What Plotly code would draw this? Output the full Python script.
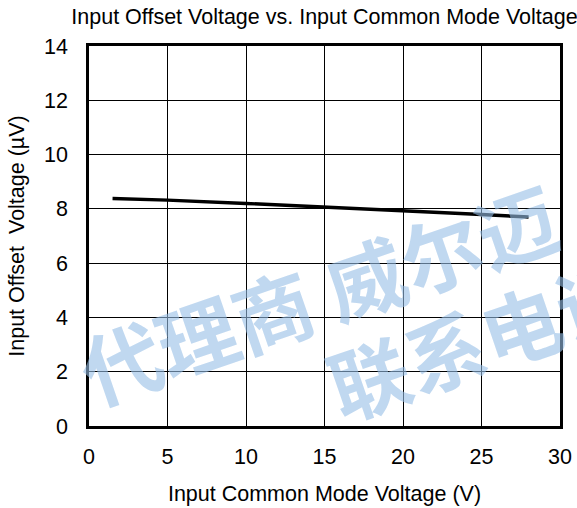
import plotly.graph_objects as go

# Data
vcm = [1.5, 5, 10, 15, 20, 25, 28]
vos = [8.38, 8.32, 8.20, 8.07, 7.93, 7.79, 7.70]

x_ticks = [0, 5, 10, 15, 20, 25, 30]
y_ticks = [0, 2, 4, 6, 8, 10, 12, 14]

FONT = "Liberation Sans, Arial, sans-serif"

fig = go.Figure()
fig.add_trace(go.Scatter(x=vcm, y=vos, mode="lines",
                         line=dict(color="black", width=3.4), showlegend=False))

fig.update_layout(
    width=577, height=508,
    margin=dict(l=89, r=17, t=46, b=82, autoexpand=False),
    paper_bgcolor="white", plot_bgcolor="white",
    font=dict(family=FONT, size=21.5, color="black"),
    title=dict(text="Input Offset Voltage vs. Input Common Mode Voltage",
               x=0.5, xanchor="center", xref="paper", y=0.968, yanchor="middle",
               font=dict(size=21.5, family=FONT, color="black")),
)
fig.update_xaxes(range=[0, 30], tickvals=x_ticks, showgrid=True, gridcolor="black",
                 gridwidth=1, showline=True, linecolor="black", linewidth=2.5, mirror=True,
                 ticks="", ticklabelstandoff=9, zeroline=False, automargin=False,
                 tickfont=dict(size=21.5),
                 title=dict(text="Input Common Mode Voltage (V)", standoff=19,
                            font=dict(size=21.5)))
fig.update_yaxes(range=[0, 14], tickvals=y_ticks, showgrid=True, gridcolor="black",
                 gridwidth=1, showline=True, linecolor="black", linewidth=2.5, mirror=True,
                 ticks="", ticklabelstandoff=14, zeroline=False, automargin=False,
                 tickfont=dict(size=21.5),
                 title=dict(text="Input Offset  Voltage (µV)", standoff=14,
                            font=dict(size=21.5)))

# Watermark text (pixel centres converted to paper coords)
wm = "rgba(150,190,230,0.6)"
def px(xp, yp):
    return (xp - 89) / 471.0, (426 - yp) / 380.0

x1, y1 = px(318, 292)
fig.add_annotation(text="代理商 威尔迈", xref="paper", yref="paper",
                   x=x1, y=y1, xanchor="center", yanchor="middle",
                   showarrow=False, textangle=-19,
                   font=dict(family="Noto Sans CJK SC", size=80, color=wm, weight="bold"))
x2, y2 = px(482, 336)
fig.add_annotation(text="联系电话", xref="paper", yref="paper",
                   x=x2, y=y2, xanchor="center", yanchor="middle",
                   showarrow=False, textangle=-19,
                   font=dict(family="Noto Sans CJK SC", size=80, color=wm, weight="bold"))

fig.write_html("out.html")
